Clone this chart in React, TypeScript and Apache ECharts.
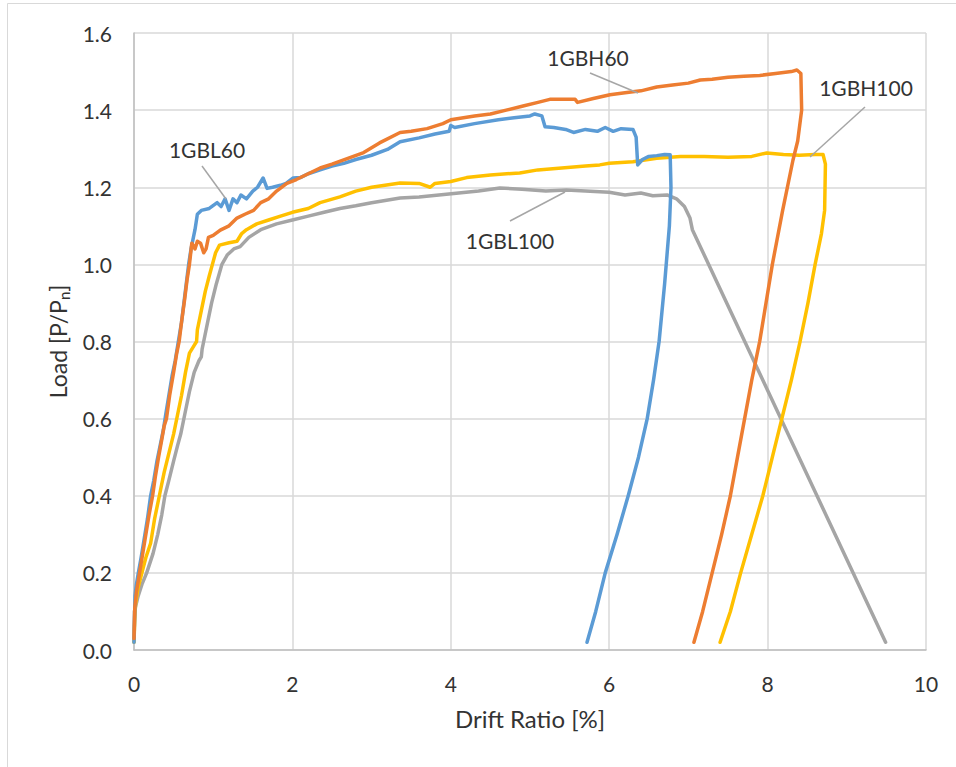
import React, { useEffect, useRef } from "react";
import * as echarts from "echarts";

// Load–drift curves for four specimens, [drift %, P/Pn]
const gbl60: [number, number][] = [
  [0.0, 0.02], [0.01, 0.1], [0.013, 0.14], [0.03, 0.17], [0.055, 0.2], [0.09, 0.24], [0.13, 0.29],
  [0.17, 0.34], [0.21, 0.4], [0.25, 0.44], [0.29, 0.49], [0.33, 0.53], [0.37, 0.57], [0.4, 0.61],
  [0.44, 0.66], [0.48, 0.71], [0.52, 0.75], [0.56, 0.8], [0.6, 0.85], [0.63, 0.9], [0.66, 0.95],
  [0.69, 1.0], [0.72, 1.04], [0.75, 1.07], [0.77, 1.09], [0.8, 1.13], [0.85, 1.14], [0.95, 1.145],
  [1.05, 1.16], [1.1, 1.15], [1.15, 1.17], [1.2, 1.14], [1.25, 1.17], [1.3, 1.16], [1.35, 1.18],
  [1.42, 1.17], [1.5, 1.19], [1.56, 1.2], [1.63, 1.224], [1.68, 1.197], [1.75, 1.2], [1.85, 1.205],
  [1.92, 1.21], [2.01, 1.224], [2.1, 1.225], [2.2, 1.235], [2.35, 1.245], [2.5, 1.255], [2.65, 1.262],
  [2.8, 1.272], [3.0, 1.283], [3.2, 1.298], [3.36, 1.318], [3.6, 1.328], [3.8, 1.338], [3.98, 1.345],
  [4.0, 1.36], [4.05, 1.355], [4.3, 1.365], [4.6, 1.375], [4.8, 1.38], [5.0, 1.385], [5.06, 1.39],
  [5.15, 1.385], [5.19, 1.357], [5.3, 1.355], [5.45, 1.35], [5.55, 1.342], [5.7, 1.35], [5.85, 1.345],
  [5.95, 1.355], [6.05, 1.345], [6.15, 1.352], [6.3, 1.35], [6.34, 1.33], [6.36, 1.258], [6.42, 1.272],
  [6.5, 1.28], [6.6, 1.282], [6.7, 1.285], [6.77, 1.284], [6.78, 1.2], [6.76, 1.1], [6.7, 0.95],
  [6.63, 0.8], [6.56, 0.7], [6.48, 0.6], [6.37, 0.5], [6.24, 0.4], [6.1, 0.3], [5.95, 0.2],
  [5.83, 0.1], [5.72, 0.02],
];

const gbh60: [number, number][] = [
  [0.0, 0.03], [0.01, 0.11], [0.03, 0.15], [0.07, 0.2], [0.11, 0.25], [0.15, 0.3], [0.19, 0.35],
  [0.235, 0.4], [0.27, 0.45], [0.31, 0.5], [0.35, 0.545], [0.38, 0.58], [0.41, 0.6], [0.45, 0.66],
  [0.5, 0.72], [0.54, 0.77], [0.57, 0.8], [0.6, 0.85], [0.64, 0.91], [0.67, 0.96], [0.7, 1.0],
  [0.73, 1.055], [0.77, 1.04], [0.8, 1.06], [0.84, 1.055], [0.88, 1.03], [0.91, 1.04], [0.94, 1.07],
  [1.0, 1.075], [1.09, 1.089], [1.2, 1.1], [1.3, 1.12], [1.4, 1.13], [1.51, 1.14], [1.6, 1.16],
  [1.7, 1.17], [1.8, 1.19], [1.93, 1.21], [2.05, 1.22], [2.2, 1.235], [2.35, 1.25], [2.5, 1.26],
  [2.7, 1.275], [2.9, 1.29], [3.1, 1.315], [3.36, 1.342], [3.5, 1.345], [3.7, 1.352], [3.9, 1.365],
  [4.0, 1.375], [4.3, 1.385], [4.5, 1.39], [4.7, 1.4], [4.9, 1.41], [5.1, 1.42], [5.25, 1.428],
  [5.57, 1.428], [5.6, 1.42], [5.8, 1.43], [6.01, 1.44], [6.2, 1.445], [6.4, 1.45], [6.6, 1.46],
  [6.8, 1.465], [7.0, 1.47], [7.15, 1.478], [7.3, 1.48], [7.5, 1.485], [7.7, 1.488], [7.9, 1.49],
  [8.1, 1.495], [8.3, 1.5], [8.37, 1.504], [8.42, 1.495], [8.43, 1.4], [8.38, 1.32], [8.32, 1.27],
  [8.19, 1.14], [8.06, 1.0], [7.98, 0.9], [7.9, 0.8], [7.8, 0.7], [7.71, 0.6], [7.62, 0.5],
  [7.53, 0.4], [7.42, 0.3], [7.3, 0.2], [7.18, 0.1], [7.07, 0.02],
];

const gbh100: [number, number][] = [
  [0.0, 0.02], [0.01, 0.08], [0.02, 0.12], [0.05, 0.16], [0.1, 0.2], [0.15, 0.24], [0.21, 0.277],
  [0.26, 0.34], [0.32, 0.4], [0.38, 0.46], [0.44, 0.51], [0.5, 0.56], [0.55, 0.61], [0.6, 0.66],
  [0.65, 0.72], [0.7, 0.77], [0.76, 0.79], [0.79, 0.8], [0.8, 0.83], [0.85, 0.88], [0.9, 0.93],
  [0.95, 0.97], [0.99, 1.0], [1.03, 1.03], [1.08, 1.05], [1.2, 1.056], [1.3, 1.06], [1.36, 1.08],
  [1.42, 1.09], [1.55, 1.105], [1.7, 1.115], [1.85, 1.125], [2.0, 1.135], [2.2, 1.145], [2.35, 1.16],
  [2.6, 1.175], [2.8, 1.19], [3.0, 1.2], [3.36, 1.211], [3.6, 1.21], [3.74, 1.2], [3.8, 1.21],
  [4.0, 1.215], [4.2, 1.225], [4.5, 1.232], [4.87, 1.237], [5.1, 1.245], [5.4, 1.25], [5.7, 1.255],
  [5.88, 1.258], [6.0, 1.262], [6.3, 1.266], [6.6, 1.275], [6.9, 1.28], [7.2, 1.28], [7.5, 1.278],
  [7.8, 1.28], [7.99, 1.289], [8.2, 1.285], [8.4, 1.283], [8.6, 1.285], [8.7, 1.285], [8.73, 1.26],
  [8.72, 1.14], [8.68, 1.08], [8.6, 1.0], [8.51, 0.9], [8.41, 0.8], [8.3, 0.7], [8.18, 0.6],
  [8.06, 0.5], [7.94, 0.4], [7.8, 0.3], [7.66, 0.2], [7.53, 0.1], [7.4, 0.02],
];

const gbl100: [number, number][] = [
  [0.0, 0.02], [0.005, 0.1], [0.05, 0.138], [0.1, 0.17], [0.16, 0.2], [0.24, 0.25], [0.3, 0.3],
  [0.35, 0.35], [0.39, 0.4], [0.44, 0.44], [0.5, 0.49], [0.55, 0.53], [0.59, 0.56], [0.64, 0.61],
  [0.7, 0.67], [0.76, 0.72], [0.82, 0.75], [0.85, 0.76], [0.86, 0.78], [0.88, 0.8], [0.93, 0.85],
  [0.98, 0.9], [1.04, 0.95], [1.11, 1.0], [1.18, 1.025], [1.26, 1.04], [1.34, 1.046], [1.45, 1.07],
  [1.6, 1.09], [1.8, 1.105], [2.0, 1.115], [2.2, 1.125], [2.4, 1.135], [2.6, 1.145], [2.8, 1.152],
  [3.0, 1.16], [3.36, 1.172], [3.6, 1.175], [3.85, 1.18], [4.1, 1.185], [4.35, 1.19], [4.62, 1.198],
  [4.9, 1.195], [5.2, 1.19], [5.46, 1.193], [5.7, 1.19], [6.0, 1.187], [6.2, 1.18], [6.4, 1.185],
  [6.55, 1.178], [6.73, 1.18], [6.85, 1.17], [6.95, 1.15], [7.02, 1.12], [7.05, 1.09], [9.49, 0.02],
];

const xTicks = [0, 2, 4, 6, 8, 10];
const yTicks = [0, 0.2, 0.4, 0.6, 0.8, 1.0, 1.2, 1.4, 1.6];

const FONT = "Lato, 'Liberation Sans', sans-serif";
const TEXT = "#333333";

export default function App() {
  const ref = useRef<HTMLDivElement>(null);

  useEffect(() => {
    if (!ref.current) return;
    const chart = echarts.init(ref.current, undefined, { renderer: "svg" });

    const line = (name: string, data: [number, number][], color: string) => ({
      name,
      type: "line",
      data,
      showSymbol: false,
      symbol: "none",
      lineStyle: { color, width: 3.5, join: "round", cap: "round" },
      itemStyle: { color },
      z: 3,
    });

    const note = (text: string, x: number, y: number) => ({
      type: "text",
      x,
      y,
      style: { text, fill: TEXT, font: `21px ${FONT}`, textAlign: "center", textVerticalAlign: "middle" },
      z: 10,
    });
    const leader = (x1: number, y1: number, x2: number, y2: number) => ({
      type: "line",
      shape: { x1, y1, x2, y2 },
      style: { stroke: "#a6a6a6", lineWidth: 1.5 },
      z: 10,
    });

    chart.setOption({
      animation: false,
      backgroundColor: "#ffffff",
      textStyle: { fontFamily: FONT },
      grid: { left: 134, right: 30, top: 33, bottom: 117, containLabel: false },
      xAxis: {
        type: "value",
        min: 0,
        max: 10,
        interval: 2,
        name: "Drift Ratio [%]",
        nameLocation: "middle",
        nameGap: 56,
        nameTextStyle: { color: TEXT, fontSize: 24, fontFamily: FONT },
        axisLine: { show: true, lineStyle: { color: "#bfbfbf", width: 1.5 } },
        axisTick: { show: false },
        axisLabel: { color: TEXT, fontSize: 21, margin: 23, fontFamily: FONT, formatter: (v: number) => (xTicks.includes(v) ? String(v) : "") },
        splitLine: { show: true, lineStyle: { color: "#d9d9d9", width: 1.5 } },
      },
      yAxis: {
        type: "value",
        min: 0,
        max: 1.6,
        interval: 0.2,
        name: "Load [P/P{sub|n}]",
        nameLocation: "middle",
        nameGap: 60,
        nameRotate: 90,
        nameTextStyle: {
          color: TEXT,
          fontSize: 23,
          fontFamily: FONT,
          rich: { sub: { fontSize: 15, color: TEXT, fontFamily: FONT, verticalAlign: "top", padding: [13, 0, 0, 0] } },
        },
        axisLine: { show: true, lineStyle: { color: "#bfbfbf", width: 1.5 } },
        axisTick: { show: false },
        axisLabel: {
          color: TEXT,
          fontSize: 21,
          margin: 22,
          fontFamily: FONT,
          formatter: (v: number) => {
            const hit = yTicks.find((t) => Math.abs(t - v) < 1e-6);
            return hit === undefined ? "" : hit.toFixed(1);
          },
        },
        splitLine: { show: true, lineStyle: { color: "#d9d9d9", width: 1.5 } },
      },
      series: [
        line("1GBL100", gbl100, "#a5a5a5"),
        line("1GBH100", gbh100, "#ffc000"),
        line("1GBL60", gbl60, "#5b9bd5"),
        line("1GBH60", gbh60, "#ed7d31"),
      ],
      graphic: [
        {
          type: "rect",
          shape: { x: 7.5, y: 3.5, width: 1000, height: 1000 },
          style: { fill: "none", stroke: "#d9d9d9", lineWidth: 1 },
          silent: true,
          z: 0,
        },
        leader(202, 166, 226, 199),
        note("1GBL60", 207, 149),
        leader(590, 73, 638, 93),
        note("1GBH60", 588, 57),
        leader(865, 107, 810, 157),
        note("1GBH100", 866, 87),
        leader(510, 221, 565, 192),
        note("1GBL100", 510, 240),
      ],
    });

    return () => chart.dispose();
  }, []);

  return <div ref={ref} style={{ position: "fixed", left: 0, top: 0, width: 956, height: 767 }} />;
}
